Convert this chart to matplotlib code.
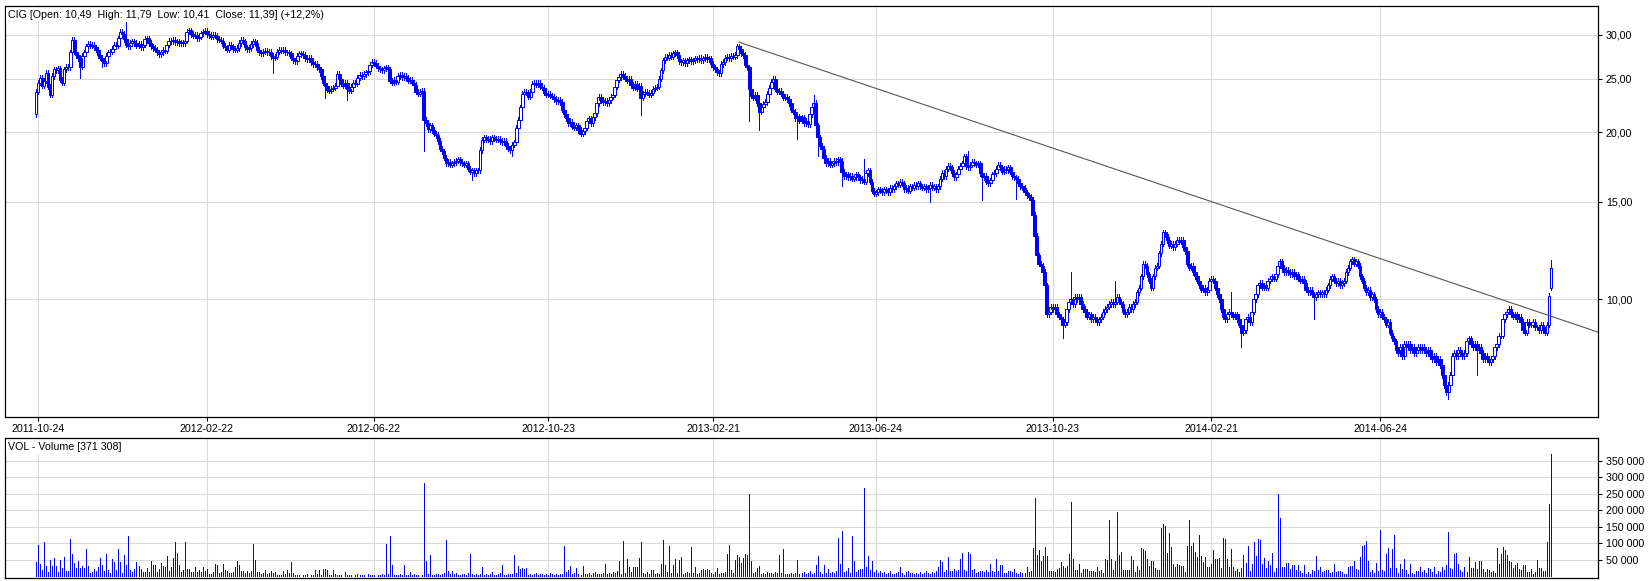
import matplotlib
matplotlib.use("Agg")
import matplotlib.pyplot as plt
from matplotlib.ticker import FixedLocator, FuncFormatter, NullLocator
import numpy as np

TICKER = "CIG"

# daily closes (bar index 0 .. 754)
CLOSE = [
    23.7, 24.6, 25.1, 24.3, 24.8, 25.6, 24.2, 23.4, 25.3, 26.0,
    25.9, 26.1, 24.9, 24.6, 26.0, 26.3, 26.2, 27.9, 29.4, 28.0,
    27.6, 27.2, 26.3, 27.5, 27.9, 28.6, 28.9, 28.7, 28.8, 28.5,
    28.2, 27.6, 27.3, 26.9, 26.7, 27.5, 27.9, 28.0, 28.3, 28.8,
    28.7, 29.6, 30.4, 30.1, 29.5, 28.8, 28.6, 29.0, 29.2, 29.0,
    28.7, 28.9, 28.5, 28.8, 29.5, 29.6, 29.0, 28.6, 28.4, 28.2,
    27.9, 27.7, 27.9, 28.2, 28.1, 28.8, 29.3, 29.2, 29.4, 29.1,
    29.2, 29.0, 29.1, 29.0, 29.3, 30.4, 30.6, 30.1, 29.9, 30.0,
    29.6, 29.8, 30.2, 30.4, 30.5, 30.1, 30.0, 29.8, 30.0, 29.9,
    29.5, 29.4, 29.3, 28.7, 28.5, 28.2, 28.8, 28.6, 28.3, 28.2,
    28.4, 29.0, 29.4, 29.2, 28.5, 28.3, 28.4, 28.9, 29.2, 29.0,
    28.2, 27.9, 27.8, 28.0, 28.1, 27.9, 28.0, 27.5, 27.3, 27.4,
    28.0, 28.2, 28.1, 28.2, 27.9, 27.9, 27.8, 27.3, 27.0, 26.9,
    27.5, 27.8, 27.7, 27.6, 27.2, 27.1, 27.3, 26.8, 26.6, 26.6,
    26.2, 26.0, 25.3, 24.6, 24.3, 23.9, 23.8, 24.0, 24.1, 24.3,
    25.5, 25.0, 24.5, 24.3, 24.6, 24.0, 23.8, 24.2, 24.6, 24.5,
    25.1, 25.4, 25.3, 25.5, 25.7, 25.8, 26.5, 26.8, 26.7, 26.4,
    26.1, 26.0, 25.9, 26.1, 26.2, 26.0, 24.8, 24.6, 24.9, 24.7,
    25.3, 25.4, 25.2, 25.3, 25.1, 24.8, 24.9, 24.6, 24.4, 23.7,
    23.5, 23.7, 23.8, 21.1, 20.8, 20.3, 20.6, 20.2, 19.9, 19.8,
    19.3, 18.7, 18.5, 18.0, 17.6, 17.7, 17.5, 17.6, 17.7, 17.8,
    17.9, 17.7, 17.6, 17.5, 17.6, 17.2, 17.0, 17.1, 16.9, 17.1,
    17.1, 18.6, 19.4, 19.6, 19.4, 19.5, 19.3, 19.6, 19.5, 19.4,
    19.5, 19.3, 19.2, 19.3, 18.9, 18.7, 18.6, 19.0, 19.2, 20.4,
    21.1, 22.2, 23.5, 23.7, 23.6, 23.2, 23.7, 24.5, 24.6, 24.4,
    24.6, 24.2, 24.1, 23.6, 23.4, 23.5, 23.3, 23.2, 23.0, 22.8,
    22.9, 22.7, 22.0, 21.6, 21.2, 20.8, 20.9, 20.5, 20.4, 20.6,
    20.2, 19.9, 20.1, 20.4, 21.0, 21.2, 20.8, 21.3, 21.7, 22.6,
    23.2, 22.9, 22.7, 22.8, 22.6, 22.9, 23.2, 23.4, 24.2, 24.9,
    25.2, 25.5, 25.3, 25.0, 24.8, 25.0, 24.4, 24.1, 24.5, 24.0,
    24.3, 23.1, 23.5, 23.7, 23.6, 23.4, 23.6, 24.0, 24.1, 24.2,
    25.0, 25.9, 27.0, 27.4, 27.3, 27.6, 27.4, 27.8, 27.9, 27.6,
    26.9, 26.8, 27.0, 26.7, 27.0, 27.1, 26.9, 27.0, 27.2, 27.1,
    27.3, 27.0, 27.2, 27.4, 27.1, 27.2, 26.6, 26.2, 26.0, 25.7,
    25.6, 26.6, 26.8, 27.3, 27.4, 27.2, 27.5, 27.4, 27.6, 28.6,
    28.3, 27.8, 27.6, 26.5, 26.2, 24.0, 23.3, 23.1, 23.4, 22.6,
    21.8, 22.2, 22.5, 22.7, 23.5, 24.1, 24.7, 25.0, 24.0, 23.7,
    23.8, 23.5, 23.1, 23.2, 23.0, 22.6, 22.0, 21.8, 21.2, 21.4,
    21.0, 21.3, 20.8, 21.0, 20.7, 21.6, 22.2, 22.6, 20.6, 19.6,
    18.9, 18.7, 18.0, 17.6, 17.8, 17.5, 17.6, 17.8, 17.7, 17.9,
    17.8, 17.0, 16.7, 16.8, 16.6, 16.7, 16.5, 16.6, 16.8, 16.6,
    16.4, 16.5, 16.3, 16.9, 17.1, 16.3, 15.7, 15.5, 15.6, 15.8,
    15.7, 15.6, 15.8, 15.7, 15.6, 15.9, 15.8, 16.0, 16.2, 16.1,
    16.3, 16.2, 15.8, 15.9, 15.7, 16.0, 15.9, 16.1, 16.0, 16.2,
    16.0, 15.9, 16.0, 15.8, 15.9, 16.1, 15.9, 16.0, 15.8, 16.0,
    16.5, 16.9, 16.7, 17.2, 17.4, 17.3, 16.9, 16.6, 16.8, 17.2,
    17.4, 17.6, 18.1, 17.4, 17.3, 17.5, 17.7, 17.6, 17.5, 17.6,
    16.9, 16.6, 16.7, 16.3, 16.2, 16.4, 16.8, 16.9, 17.2, 17.5,
    17.3, 17.0, 17.2, 17.1, 17.3, 17.0, 16.7, 16.6, 16.5, 16.2,
    16.0, 15.9, 15.6, 15.4, 15.3, 15.1, 14.2, 13.0, 12.0, 11.6,
    11.5, 11.2, 10.6, 9.4, 9.5, 9.7, 9.6, 9.7, 9.4, 9.3,
    9.2, 9.0, 9.1, 9.6, 9.9, 10.0, 9.8, 10.1, 10.0, 10.1,
    9.8, 9.6, 9.5, 9.3, 9.4, 9.2, 9.3, 9.2, 9.1, 9.2,
    9.3, 9.5, 9.6, 9.7, 9.8, 9.9, 9.8, 9.9, 10.1, 9.9,
    9.8, 9.5, 9.4, 9.5, 9.7, 9.6, 9.8, 9.9, 10.3, 10.5,
    11.0, 11.6, 11.5, 11.1, 10.8, 10.5, 11.0, 11.4, 11.5, 12.1,
    12.6, 13.2, 13.1, 12.8, 12.5, 12.6, 12.4, 12.6, 12.8, 12.7,
    12.8, 12.4, 12.2, 11.6, 11.4, 11.5, 11.2, 11.0, 10.8, 10.6,
    10.4, 10.5, 10.3, 10.4, 10.8, 10.9, 10.8, 10.5, 10.2, 10.0,
    9.6, 9.3, 9.2, 9.4, 9.5, 9.4, 9.3, 9.4, 9.2, 9.0,
    8.7, 8.8, 9.2, 9.3, 9.1, 9.5, 10.0, 10.2, 10.6, 10.7,
    10.5, 10.6, 10.5, 10.8, 10.9, 11.0, 10.9, 11.1, 11.5, 11.7,
    11.4, 11.2, 11.3, 11.2, 11.1, 11.2, 11.0, 11.1, 10.9, 10.8,
    10.9, 10.7, 10.4, 10.3, 10.4, 10.2, 10.1, 10.2, 10.3, 10.2,
    10.3, 10.2, 10.4, 10.6, 10.9, 11.0, 10.8, 10.7, 10.8, 10.6,
    10.7, 10.8, 11.2, 11.4, 11.7, 11.8, 11.6, 11.7, 11.5, 11.0,
    10.8, 10.5, 10.3, 10.4, 10.1, 10.2, 10.0, 9.6, 9.4, 9.5,
    9.3, 9.2, 9.0, 9.1, 8.7, 8.5, 8.4, 8.1, 8.0, 8.2,
    7.9, 8.3, 8.2, 8.3, 8.1, 8.2, 8.0, 8.1, 8.2, 8.1,
    8.2, 8.1, 8.0, 8.1, 7.9, 7.8, 7.9, 7.7, 7.8, 7.6,
    7.3, 7.0, 6.8, 7.0, 7.3, 7.9, 8.0, 7.9, 8.1, 8.0,
    7.9, 8.0, 8.4, 8.5, 8.3, 8.2, 8.3, 8.1, 8.2, 8.0,
    7.8, 7.9, 7.8, 7.7, 7.8, 7.9, 8.2, 8.3, 8.6, 8.6,
    9.2, 9.4, 9.5, 9.6, 9.4, 9.3, 9.4, 9.2, 9.3, 9.1,
    8.8, 8.7, 9.1, 9.0, 9.0, 9.1, 8.9, 8.9, 8.8, 9.0,
    8.8, 8.7, 9.0, 10.15, 11.39,
]
FIRST_OPEN = 21.6
LAST_OPEN = 10.49
LAST_HIGH = 11.79
LAST_LOW = 10.41

# visible long shadows: (bar index, price)
WICK_HIGHS = [(45, 31.6), (387, 23.4), (412, 17.9), (464, 18.5), (515, 11.2),
              (537, 10.8), (595, 10.3)]
WICK_LOWS = [(22, 25.1), (33, 26.3), (118, 25.6), (144, 23.1), (155, 22.9),
             (193, 18.5), (217, 16.4), (237, 18.1), (301, 21.5), (355, 21.0),
             (360, 20.2), (379, 19.5), (389, 18.1), (401, 16.0), (445, 15.0),
             (471, 15.1), (488, 15.2), (511, 8.5), (600, 8.2), (636, 9.2),
             (703, 6.6), (717, 7.3), (740, 8.7)]

# daily volume, thousands of shares
VOLUME_K = [
    43, 94, 37, 19, 103, 31, 14, 49, 31, 55,
    31, 14, 49, 25, 58, 16, 16, 112, 67, 40,
    25, 46, 25, 31, 25, 82, 31, 10, 13, 22,
    16, 28, 55, 34, 16, 67, 19, 10, 52, 43,
    19, 82, 43, 10, 64, 34, 121, 19, 13, 22,
    43, 31, 22, 13, 13, 25, 13, 46, 34, 34,
    13, 22, 40, 31, 28, 61, 16, 28, 55, 103,
    70, 34, 13, 19, 103, 22, 22, 13, 13, 28,
    13, 19, 13, 28, 16, 22, 7, 7, 13, 37,
    34, 10, 13, 37, 19, 16, 10, 10, 13, 28,
    46, 34, 16, 16, 10, 16, 10, 16, 97, 49,
    13, 13, 7, 10, 19, 7, 10, 16, 10, 13,
    4, 4, 4, 16, 7, 19, 10, 43, 10, 5,
    4, 6, 3, 5, 4, 7, 3, 5, 6, 19,
    8, 19, 5, 22, 22, 20, 6, 4, 19, 7,
    5, 4, 6, 3, 13, 5, 4, 6, 3, 5,
    7, 4, 5, 6, 3, 8, 4, 5, 6, 3,
    5, 4, 7, 6, 97, 8, 121, 34, 6, 5,
    4, 7, 5, 34, 6, 4, 13, 5, 7, 4,
    6, 3, 5, 282, 46, 8, 64, 6, 5, 7,
    9, 6, 8, 12, 109, 16, 7, 16, 8, 10,
    6, 5, 9, 7, 6, 11, 67, 8, 5, 7,
    6, 9, 28, 5, 7, 6, 8, 13, 5, 6,
    7, 12, 34, 6, 5, 8, 7, 9, 64, 10,
    31, 22, 25, 22, 25, 6, 9, 5, 7, 10,
    6, 8, 9, 5, 7, 6, 11, 8, 6, 9,
    5, 7, 9, 91, 13, 19, 31, 8, 10, 25,
    9, 6, 31, 7, 8, 10, 6, 12, 13, 8,
    9, 7, 11, 37, 9, 12, 8, 14, 10, 16,
    46, 9, 106, 12, 52, 28, 13, 28, 28, 28,
    55, 103, 10, 8, 13, 9, 19, 19, 8, 11,
    9, 37, 109, 34, 13, 91, 12, 34, 52, 10,
    49, 58, 9, 12, 14, 10, 88, 11, 28, 9,
    12, 19, 22, 19, 22, 20, 10, 8, 13, 25,
    9, 12, 11, 14, 67, 94, 19, 12, 49, 64,
    58, 40, 55, 67, 64, 250, 46, 12, 14, 25,
    31, 9, 11, 8, 14, 12, 10, 8, 13, 11,
    64, 12, 82, 9, 7, 8, 10, 9, 12, 49,
    8, 10, 14, 9, 11, 16, 9, 12, 34, 61,
    13, 9, 34, 10, 22, 12, 15, 10, 18, 115,
    37, 136, 14, 18, 25, 12, 121, 46, 15, 20,
    22, 22, 268, 28, 61, 19, 46, 14, 20, 12,
    16, 10, 14, 8, 12, 17, 9, 7, 12, 14,
    28, 10, 6, 14, 16, 10, 12, 8, 10, 9,
    14, 8, 11, 17, 12, 9, 14, 10, 16, 30,
    49, 43, 14, 20, 58, 16, 17, 22, 16, 19,
    52, 70, 20, 18, 73, 67, 20, 22, 12, 14,
    18, 16, 13, 20, 15, 37, 17, 14, 52, 18,
    34, 34, 12, 10, 18, 16, 14, 22, 12, 8,
    15, 12, 10, 28, 14, 18, 85, 238, 64, 79,
    46, 61, 88, 61, 16, 16, 16, 14, 22, 25,
    43, 31, 26, 31, 67, 226, 52, 20, 20, 37,
    10, 22, 22, 22, 16, 16, 16, 14, 28, 16,
    20, 10, 52, 50, 170, 53, 20, 46, 194, 64,
    73, 20, 20, 20, 20, 61, 50, 14, 32, 20,
    85, 83, 77, 53, 32, 47, 47, 26, 20, 20,
    146, 158, 152, 70, 131, 88, 38, 30, 38, 35,
    32, 32, 14, 92, 170, 92, 101, 74, 59, 125,
    62, 44, 59, 29, 29, 38, 80, 53, 53, 56,
    26, 116, 113, 53, 29, 83, 29, 17, 23, 14,
    26, 65, 41, 92, 17, 38, 104, 62, 113, 110,
    38, 56, 26, 47, 35, 71, 14, 26, 249, 177,
    29, 29, 41, 41, 23, 35, 35, 20, 35, 17,
    10, 35, 8, 14, 8, 20, 17, 61, 20, 29,
    14, 17, 20, 20, 11, 14, 38, 14, 17, 17,
    14, 8, 8, 29, 32, 32, 47, 23, 20, 59,
    92, 95, 107, 47, 14, 20, 11, 41, 17, 140,
    20, 17, 67, 86, 26, 83, 125, 26, 11, 38,
    23, 53, 20, 8, 38, 11, 8, 17, 17, 29,
    14, 20, 11, 26, 23, 14, 29, 8, 17, 14,
    29, 20, 35, 134, 26, 23, 67, 70, 38, 20,
    14, 29, 14, 59, 26, 26, 44, 23, 47, 47,
    23, 14, 23, 20, 14, 17, 11, 86, 38, 67,
    89, 80, 65, 47, 44, 26, 35, 41, 23, 20,
    35, 35, 14, 14, 23, 8, 14, 50, 26, 26,
    17, 17, 104, 219, 371.308,
]

DATE_LABELS = ["2011-10-24", "2012-02-22", "2012-06-22", "2012-10-23", "2013-02-21",
               "2013-06-24", "2013-10-23", "2014-02-21", "2014-06-24"]
DATE_BAR_INDEX = [1, 85, 168, 255, 337, 418, 506, 585, 669]

PRICE_TICKS = [10, 15, 20, 25, 30]
VOLUME_TICKS = [50000, 100000, 150000, 200000, 250000, 300000, 350000]

TREND_INDEX = [350, 777.6]
TREND_PRICE = [29.1, 8.72]

BLUE = "#0000FF"
GRID = "#d9d9d9"
FONT = "Liberation Sans"
FS = 7.7

n = len(CLOSE)
assert len(VOLUME_K) == n, (len(VOLUME_K), n)
x = np.arange(n)
close = np.array(CLOSE, dtype=float)
open_ = np.empty(n)
open_[0] = FIRST_OPEN
open_[1:] = close[:-1]
open_[-1] = LAST_OPEN
top = np.maximum(open_, close)
bot = np.minimum(open_, close)
high = top * 1.011
low = bot * 0.989
for i, v in WICK_HIGHS:
    high[i] = max(high[i], v)
for i, v in WICK_LOWS:
    low[i] = min(low[i], v)
high[-1] = LAST_HIGH
low[-1] = LAST_LOW
up = close >= open_
volume = np.array(VOLUME_K, dtype=float) * 1000

W, H = 1651, 581
fig = plt.figure(figsize=(W / 100, H / 100), dpi=100)
fig.patch.set_facecolor("white")

ax = fig.add_axes([4.5 / W, 1 - 417 / H, (1598.3 - 4.5) / W, (417 - 6) / H])
axv = fig.add_axes([4.5 / W, 1 - 578.3 / H, (1598.3 - 4.5) / W, (578.3 - 437.7) / H])

XMIN, XMAX = -15.7, 777.6

# ---- price panel
ax.set_yscale("log")
ax.set_xlim(XMIN, XMAX)
ax.set_ylim(6.13, 33.83)
ax.vlines(x, low, high, color=BLUE, lw=0.72, antialiased=False, zorder=2)
hgt = np.maximum(top - bot, 1e-3)
ax.bar(x[up], hgt[up], bottom=bot[up], width=1.3, facecolor="white",
       edgecolor=BLUE, linewidth=0.72, zorder=3)
ax.bar(x[~up], hgt[~up], bottom=bot[~up], width=1.3, facecolor=BLUE,
       edgecolor=BLUE, linewidth=0.72, zorder=3)
ax.plot(TREND_INDEX, TREND_PRICE, color="#555555", lw=0.8, zorder=4, clip_on=True)

ax.yaxis.tick_right()
ax.yaxis.set_major_locator(FixedLocator(PRICE_TICKS))
ax.yaxis.set_minor_locator(NullLocator())
ax.yaxis.set_major_formatter(FuncFormatter(lambda v, p: f"{v:.2f}".replace(".", ",")))
ax.xaxis.set_major_locator(FixedLocator(DATE_BAR_INDEX))
ax.set_xticklabels(DATE_LABELS)
ax.tick_params(axis="both", direction="out", length=3.2, width=0.75, color="black",
               labelsize=FS, pad=2.2)
ax.tick_params(axis="x", pad=1.8)
for lab in ax.get_xticklabels() + ax.get_yticklabels():
    lab.set_fontfamily(FONT)
ax.grid(True, color=GRID, lw=0.75, zorder=0)
ax.set_axisbelow(True)
for s in ax.spines.values():
    s.set_color("black")
    s.set_linewidth(0.9)

def fmt_num(v):
    return f"{v:.2f}".replace(".", ",")

pct = (close[-1] / close[-2] - 1) * 100
title = (f"{TICKER} [Open: {fmt_num(open_[-1])}  High: {fmt_num(high[-1])}  "
         f"Low: {fmt_num(low[-1])}  Close: {fmt_num(close[-1])}] "
         f"(+{pct:.1f}%)".replace(".", ","))
fig.text(8 / W, 1 - 15 / H, title, fontsize=FS, family=FONT,
         va="center", ha="left", zorder=10,
         bbox=dict(facecolor="white", edgecolor="none", pad=1.2))

# ---- volume panel
axv.set_xlim(XMIN, XMAX)
axv.set_ylim(-5440, 419300)
axv.vlines(x, 0, volume, color=BLUE, lw=0.72, antialiased=False, zorder=2)
axv.yaxis.tick_right()
axv.yaxis.set_major_locator(FixedLocator(VOLUME_TICKS))
axv.yaxis.set_major_formatter(FuncFormatter(lambda v, p: f"{int(round(v)):,}".replace(",", " ")))
axv.xaxis.set_major_locator(FixedLocator(DATE_BAR_INDEX))
axv.tick_params(axis="x", length=0, labelbottom=False)
axv.tick_params(axis="y", direction="out", length=3.2, width=0.75, labelsize=FS, pad=2.2)
for lab in axv.get_yticklabels():
    lab.set_fontfamily(FONT)
axv.grid(True, color=GRID, lw=0.75, zorder=0)
axv.set_axisbelow(True)
for s in axv.spines.values():
    s.set_color("black")
    s.set_linewidth(0.9)
vol_label = f"VOL - Volume [{int(round(volume[-1])):,}]".replace(",", " ")
fig.text(8 / W, 1 - 447 / H, vol_label, fontsize=FS, family=FONT, va="center", ha="left",
         zorder=10, bbox=dict(facecolor="white", edgecolor="none", pad=1.2))

fig.savefig("out.png", dpi=100, facecolor="white")
